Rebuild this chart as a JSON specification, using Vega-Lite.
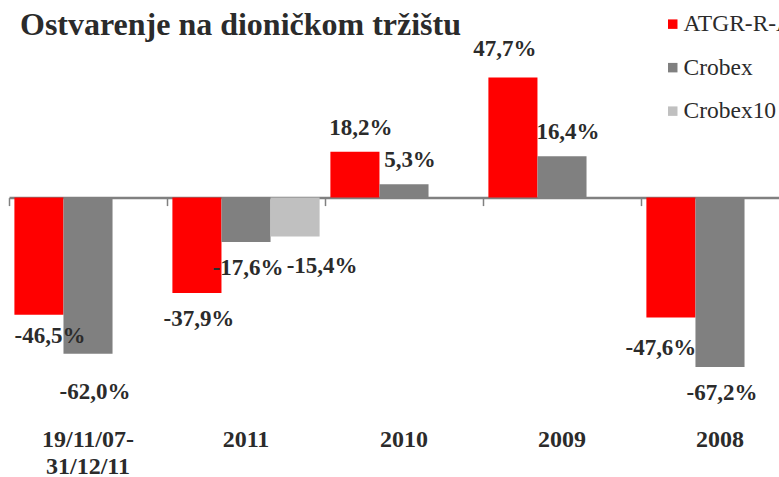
{
  "$schema": "https://vega.github.io/schema/vega-lite/v6.json",
  "autosize": {"type": "none"},
  "width": 790,
  "height": 378,
  "padding": {"left": 9, "top": 46.4, "right": 0, "bottom": 54},
  "background": "white",
  "title": {
    "text": "Ostvarenje na dioničkom tržištu",
    "anchor": "start",
    "frame": "group",
    "font": "Liberation Serif",
    "fontSize": 32,
    "fontWeight": "bold",
    "color": "#2b2b2b",
    "dx": 11,
    "dy": 38,
    "offset": 8
  },
  "config": {
    "view": {"stroke": null},
    "font": "Liberation Serif",
    "legend": {"labelFont": "Liberation Serif"},
    "locale": {"number": {"decimal": ",", "thousands": ".", "grouping": [3], "currency": ["", " kn"], "minus": "-"}}
  },
  "data": {
    "values": [
      {"category": "19/11/07-31/12/11", "series": "ATGR-R-A", "value": -0.465},
      {"category": "19/11/07-31/12/11", "series": "Crobex", "value": -0.620},
      {"category": "2011", "series": "ATGR-R-A", "value": -0.379},
      {"category": "2011", "series": "Crobex", "value": -0.176},
      {"category": "2011", "series": "Crobex10", "value": -0.154},
      {"category": "2010", "series": "ATGR-R-A", "value": 0.182},
      {"category": "2010", "series": "Crobex", "value": 0.053},
      {"category": "2009", "series": "ATGR-R-A", "value": 0.477},
      {"category": "2009", "series": "Crobex", "value": 0.164},
      {"category": "2008", "series": "ATGR-R-A", "value": -0.476},
      {"category": "2008", "series": "Crobex", "value": -0.672}
    ]
  },
  "resolve": {"axis": {"x": "independent"}},
  "layer": [
    {
      "mark": {"type": "bar"},
      "encoding": {
        "x": {
          "field": "category", "type": "nominal", "sort": null,
          "scale": {"domain": ["19/11/07-31/12/11", "2011", "2010", "2009", "2008"], "paddingInner": 0, "paddingOuter": 0},
          "axis": {
            "orient": "bottom", "domain": false, "ticks": false, "title": null,
            "labelAngle": 0, "labelFont": "Liberation Serif", "labelFontSize": 24, "labelFontWeight": "bold",
            "labelColor": "#2b2b2b", "labelPadding": 3, "labelLineHeight": 27, "labelBaseline": "top",
            "labelExpr": "datum.label == '19/11/07-31/12/11' ? ['19/11/07-', '31/12/11'] : datum.label"
          }
        },
        "xOffset": {"field": "series", "type": "nominal", "scale": {"domain": ["ATGR-R-A", "Crobex", "Crobex10"], "paddingInner": 0, "paddingOuter": 0.11}},
        "y": {"field": "value", "type": "quantitative", "scale": {"domain": [-0.9, 0.6], "nice": false}, "axis": null},
        "color": {
          "field": "series", "type": "nominal",
          "scale": {"domain": ["ATGR-R-A", "Crobex", "Crobex10"], "range": ["#ff0000", "#808080", "#c0c0c0"]},
          "legend": {
            "orient": "none", "legendX": 652, "legendY": -34, "title": null,
            "symbolType": "square", "symbolSize": 90, "symbolStrokeWidth": 0,
            "labelFont": "Liberation Serif", "labelFontSize": 23.5, "labelColor": "#2b2b2b",
            "rowPadding": 18.5, "labelOffset": -1, "padding": 0, "labelLimit": 300
          }
        }
      }
    },
    {
      "transform": [{"filter": "datum.value > 0 && !(datum.category == '2009' && datum.series == 'ATGR-R-A')"}],
      "mark": {"type": "text", "font": "Liberation Serif", "fontSize": 23, "fontWeight": "bold", "color": "#2b2b2b", "baseline": "middle", "align": "center", "dx": 6, "dy": -24},
      "encoding": {
        "x": {
          "field": "category", "type": "nominal", "sort": null,
          "axis": {
            "orient": "bottom", "offset": -226.8, "labels": false, "title": null,
            "domain": true, "domainColor": "#808080", "domainWidth": 2.5,
            "ticks": true, "tickColor": "#808080", "tickWidth": 1.5, "tickSize": 8, "bandPosition": 0, "grid": false
          }
        },
        "xOffset": {"field": "series", "type": "nominal"},
        "y": {"field": "value", "type": "quantitative"},
        "text": {"field": "value", "type": "quantitative", "format": ".1%"}
      }
    },
    {
      "transform": [{"filter": "(datum.category == '2011' && datum.series != 'Crobex10') || (datum.category == '2008' && datum.series == 'Crobex')"}],
      "mark": {"type": "text", "font": "Liberation Serif", "fontSize": 23, "fontWeight": "bold", "color": "#2b2b2b", "baseline": "middle", "align": "center", "dx": 2, "dy": 26},
      "encoding": {
        "x": {"field": "category", "type": "nominal", "sort": null, "axis": null},
        "xOffset": {"field": "series", "type": "nominal"},
        "y": {"field": "value", "type": "quantitative"},
        "text": {"field": "value", "type": "quantitative", "format": ".1%"}
      }
    },
    {
      "transform": [{"filter": "datum.category == '19/11/07-31/12/11' && datum.series == 'ATGR-R-A'"}],
      "mark": {"type": "text", "font": "Liberation Serif", "fontSize": 23, "fontWeight": "bold", "color": "#2b2b2b", "baseline": "middle", "align": "center", "dx": 11, "dy": 21},
      "encoding": {
        "x": {"field": "category", "type": "nominal", "sort": null, "axis": null},
        "xOffset": {"field": "series", "type": "nominal"},
        "y": {"field": "value", "type": "quantitative"},
        "text": {"field": "value", "type": "quantitative", "format": ".1%"}
      }
    },
    {
      "transform": [{"filter": "datum.category == '19/11/07-31/12/11' && datum.series == 'Crobex'"}],
      "mark": {"type": "text", "font": "Liberation Serif", "fontSize": 23, "fontWeight": "bold", "color": "#2b2b2b", "baseline": "middle", "align": "center", "dx": 7, "dy": 38},
      "encoding": {
        "x": {"field": "category", "type": "nominal", "sort": null, "axis": null},
        "xOffset": {"field": "series", "type": "nominal"},
        "y": {"field": "value", "type": "quantitative"},
        "text": {"field": "value", "type": "quantitative", "format": ".1%"}
      }
    },
    {
      "transform": [{"filter": "datum.category == '2011' && datum.series == 'Crobex10'"}],
      "mark": {"type": "text", "font": "Liberation Serif", "fontSize": 23, "fontWeight": "bold", "color": "#2b2b2b", "baseline": "middle", "align": "center", "dx": 27, "dy": 30},
      "encoding": {
        "x": {"field": "category", "type": "nominal", "sort": null, "axis": null},
        "xOffset": {"field": "series", "type": "nominal"},
        "y": {"field": "value", "type": "quantitative"},
        "text": {"field": "value", "type": "quantitative", "format": ".1%"}
      }
    },
    {
      "transform": [{"filter": "datum.category == '2009' && datum.series == 'ATGR-R-A'"}],
      "mark": {"type": "text", "font": "Liberation Serif", "fontSize": 23, "fontWeight": "bold", "color": "#2b2b2b", "baseline": "middle", "align": "center", "dx": -8, "dy": -28},
      "encoding": {
        "x": {"field": "category", "type": "nominal", "sort": null, "axis": null},
        "xOffset": {"field": "series", "type": "nominal"},
        "y": {"field": "value", "type": "quantitative"},
        "text": {"field": "value", "type": "quantitative", "format": ".1%"}
      }
    },
    {
      "transform": [{"filter": "datum.category == '2008' && datum.series == 'ATGR-R-A'"}],
      "mark": {"type": "text", "font": "Liberation Serif", "fontSize": 23, "fontWeight": "bold", "color": "#2b2b2b", "baseline": "middle", "align": "center", "dx": -10, "dy": 30},
      "encoding": {
        "x": {"field": "category", "type": "nominal", "sort": null, "axis": null},
        "xOffset": {"field": "series", "type": "nominal"},
        "y": {"field": "value", "type": "quantitative"},
        "text": {"field": "value", "type": "quantitative", "format": ".1%"}
      }
    }
  ]
}
